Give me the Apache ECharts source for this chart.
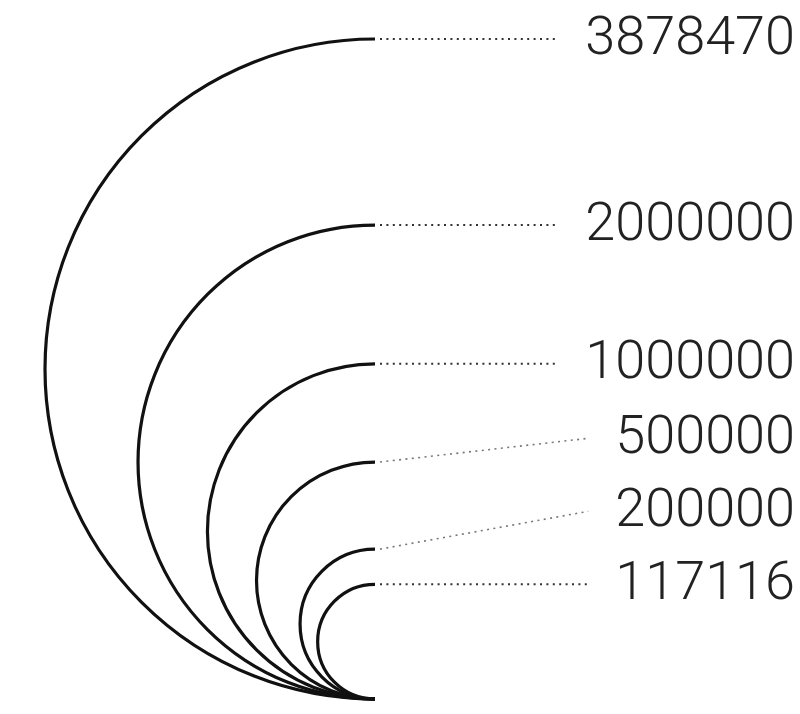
<!DOCTYPE html>
<html>
<head>
<meta charset="utf-8">
<script src="https://cdn.jsdelivr.net/npm/echarts@6/dist/echarts.min.js"></script>
<style>
  html, body { margin: 0; padding: 0; background: #ffffff; }
  #chart { width: 800px; height: 714px; }
</style>
</head>
<body>
<div id="chart"></div>
<script>
// ---- data ----
const values = [3878470, 2000000, 1000000, 500000, 200000, 117116];
const labels = ['3878470', '2000000', '1000000', '500000', '200000', '117116'];

// ---- layout / style ----
const LABEL_FONT = '300 54px Roboto';
const LABEL_GAP = 73;      // minimum vertical spacing between labels (px)
const LEADER_GAP = 27;     // space between leader end and label text (px)

const sqrtMax = Math.sqrt(Math.max.apply(null, values));

const measureCtx = document.createElement('canvas').getContext('2d');
measureCtx.font = LABEL_FONT;

const chart = echarts.init(document.getElementById('chart'), null, { renderer: 'canvas' });

function renderItem(params, api) {
  const cs = params.coordSys;
  const rightEdge = cs.x + cs.width;
  const idx = params.dataIndex;

  // compute all arc tops to lay out labels without overlap (bottom-up)
  const tops = values.map(v => api.coord([0, Math.sqrt(v)]));
  const order = values.map((v, i) => i).sort((a, b) => values[a] - values[b]);
  const labelY = [];
  let prev = Infinity;
  order.forEach(i => {
    const y = Math.min(tops[i][1], prev - LABEL_GAP);
    labelY[i] = y;
    prev = y;
  });

  const bottom = api.coord([0, 0]);
  const top = api.coord([api.value(0), api.value(1)]);
  const r = (bottom[1] - top[1]) / 2;
  const cx = top[0];
  const cy = top[1] + r;

  const text = labels[idx];
  const tw = measureCtx.measureText(text).width;
  const textLeft = rightEdge - tw;
  const ly = labelY[idx];
  const sloped = Math.abs(ly - top[1]) > 1;

  return {
    type: 'group',
    children: [
      {
        type: 'arc',
        shape: { cx: cx, cy: cy, r: r, startAngle: Math.PI / 2, endAngle: Math.PI * 1.5, clockwise: true },
        style: { stroke: '#111111', lineWidth: 3.2, fill: null }
      },
      {
        type: 'line',
        shape: { x1: cx + 5, y1: top[1], x2: textLeft - LEADER_GAP, y2: ly },
        style: {
          stroke: sloped ? '#777777' : '#333333',
          lineWidth: sloped ? 1.6 : 2,
          lineDash: [2, 4.4]
        }
      },
      {
        type: 'text',
        style: {
          text: text,
          x: rightEdge,
          y: ly + 1,
          align: 'right',
          verticalAlign: 'middle',
          font: LABEL_FONT,
          fill: '#222222'
        }
      }
    ]
  };
}

chart.setOption({
  backgroundColor: '#ffffff',
  animation: false,
  grid: { left: 45, right: 5, top: 39, bottom: 15 },
  xAxis: {
    type: 'value',
    min: -sqrtMax / 2,
    max: sqrtMax / 2 * 420 / 330,
    show: false
  },
  yAxis: {
    type: 'value',
    min: 0,
    max: sqrtMax,
    show: false
  },
  series: [{
    type: 'custom',
    renderItem: renderItem,
    data: values.map(v => [0, Math.sqrt(v), v]),
    clip: false
  }]
});
</script>
</body>
</html>
